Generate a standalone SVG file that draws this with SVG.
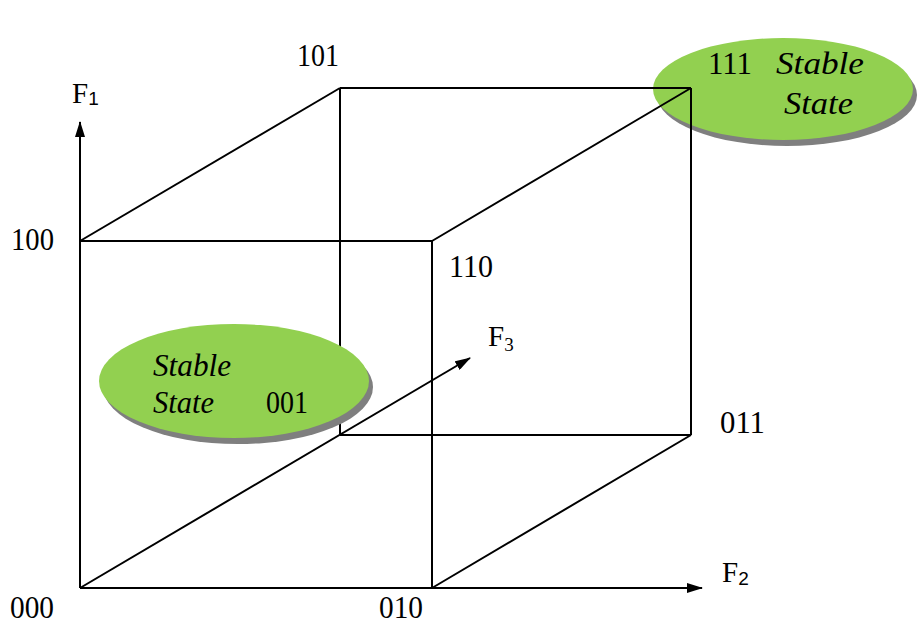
<svg xmlns="http://www.w3.org/2000/svg" width="917" height="624" viewBox="0 0 917 624">
<style>
.e{stroke:#000;stroke-width:2;fill:none}
.t{font-family:"Liberation Serif","Times New Roman",serif;font-size:32px;fill:#000}
.f{font-size:29px}
.i{font-style:italic}
.sub{font-size:19px}
.ss{font-family:"Liberation Sans",Arial,sans-serif}
.oval{fill:#92d050}
.sh{fill:#7f7f7f}
</style>
<defs>
<marker id="ah" viewBox="0 0 16 10" refX="15" refY="5" markerWidth="16" markerHeight="10" markerUnits="userSpaceOnUse" orient="auto">
<path d="M0,0 L16,5 L0,10 Z" fill="#000"/>
</marker>
</defs>
<rect width="917" height="624" fill="#fff"/>
<g id="stable111">
<ellipse class="sh" cx="787" cy="95" rx="130" ry="51"/>
<ellipse class="oval" cx="783" cy="89" rx="130" ry="51"/>
</g>
<g id="connectors">
<line class="e" x1="80" y1="241" x2="432" y2="241"/>
<line class="e" x1="80" y1="241" x2="80" y2="588"/>
<line class="e" x1="432" y1="241" x2="432" y2="588"/>
<line class="e" x1="340" y1="88" x2="691" y2="88"/>
<line class="e" x1="340" y1="88" x2="340" y2="435"/>
<line class="e" x1="691" y1="88" x2="691" y2="435"/>
<line class="e" x1="340" y1="435" x2="691" y2="435"/>
<line class="e" x1="80" y1="241" x2="340" y2="88"/>
<line class="e" x1="432" y1="241" x2="691" y2="88"/>
<line class="e" x1="432" y1="588" x2="691" y2="435"/>
<line class="e" x1="80" y1="241" x2="80" y2="122" marker-end="url(#ah)"/>
<line class="e" x1="80" y1="588" x2="702" y2="588" marker-end="url(#ah)"/>
<line class="e" x1="80" y1="588" x2="470" y2="358" marker-end="url(#ah)"/>
</g>
<g id="stable001">
<ellipse class="sh" cx="238" cy="387" rx="135" ry="57"/>
<ellipse class="oval" cx="234" cy="381" rx="135" ry="57"/>
<text class="t i" x="153" y="376" textLength="78" lengthAdjust="spacingAndGlyphs">Stable</text>
<text class="t i" x="153" y="413" textLength="61" lengthAdjust="spacingAndGlyphs">State</text>
<text class="t" x="266" y="413" textLength="42" lengthAdjust="spacingAndGlyphs">001</text>
</g>
<g id="label111">
<text class="t" x="708" y="74" textLength="44" lengthAdjust="spacingAndGlyphs">111</text>
<text class="t i" x="776" y="74" textLength="88" lengthAdjust="spacingAndGlyphs">Stable</text>
<text class="t i" x="784" y="114" textLength="69" lengthAdjust="spacingAndGlyphs">State</text>
</g>
<g id="labels">
<text class="t" x="297" y="66" textLength="42" lengthAdjust="spacingAndGlyphs">101</text>
<text class="t f" x="72" y="103">F<tspan class="sub ss" dy="2">1</tspan></text>
<text class="t" x="11" y="250" textLength="43" lengthAdjust="spacingAndGlyphs">100</text>
<text class="t" x="449" y="277" textLength="44" lengthAdjust="spacingAndGlyphs">110</text>
<text class="t f" x="488" y="346">F<tspan class="sub" dy="5">3</tspan></text>
<text class="t" x="720" y="433" textLength="45" lengthAdjust="spacingAndGlyphs">011</text>
<text class="t f" x="722" y="582">F<tspan class="sub ss" dy="3">2</tspan></text>
<text class="t" x="10" y="618" textLength="44" lengthAdjust="spacingAndGlyphs">000</text>
<text class="t" x="379" y="618" textLength="44" lengthAdjust="spacingAndGlyphs">010</text>
</g>
</svg>
